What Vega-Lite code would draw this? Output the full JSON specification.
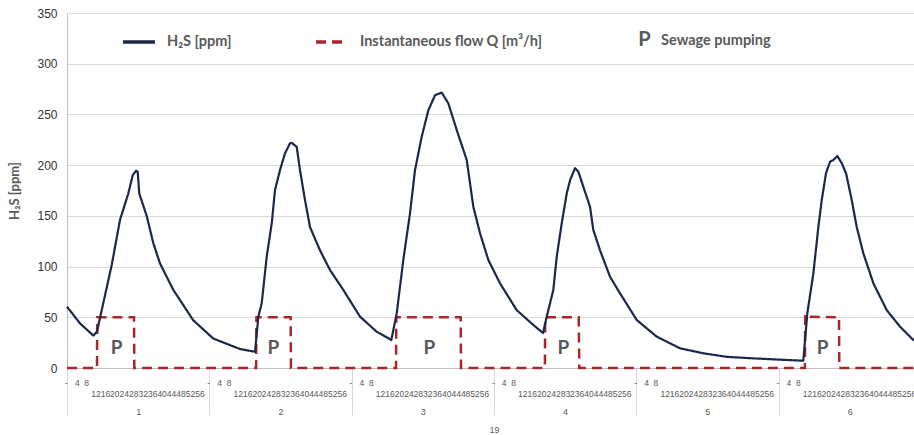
{
  "$schema": "https://vega.github.io/schema/vega-lite/v6.json",
  "width": 847,
  "height": 355,
  "autosize": {"type": "none"},
  "padding": {"left": 67, "top": 13, "right": 0, "bottom": 67},
  "background": "white",
  "config": {
    "view": {"stroke": null},
    "font": "Lato",
    "axisX": {"orient": "bottom", "grid": false, "domain": false, "ticks": false, "labelFlush": false, "labelOverlap": false, "labelFont": "Liberation Sans", "labelFontSize": 8.5, "labelColor": "#595959", "labelBound": false},
    "axisY": {"grid": true, "gridColor": "#d9d9d9", "gridWidth": 1, "domain": true, "domainColor": "#bfbfbf", "ticks": false, "labelPadding": 10, "labelFont": "Liberation Sans", "labelFontSize": 12, "labelColor": "#333333", "titleFont": "Lato", "titleFontSize": 13, "titleFontWeight": "bold", "titleColor": "#595959", "titlePadding": 15, "tickCount": 7},
    "legend": {"orient": "none", "legendX": 54, "legendY": 11, "direction": "horizontal", "symbolType": "stroke", "symbolSize": 1024, "symbolStrokeWidth": 3.5, "labelFont": "Lato", "labelFontWeight": "bold", "labelFontSize": 14.5, "labelColor": "#595959", "labelOffset": 10, "columnPadding": 77, "padding": 0, "labelLimit": 400}
  },
  "datasets": {
    "h2s": [
      {"t": 0, "v": 60.4}, {"t": 2.19, "v": 44}, {"t": 4.44, "v": 32}, {"t": 5.06, "v": 36}, {"t": 6.12, "v": 64}, {"t": 7.54, "v": 101.5}, {"t": 8.94, "v": 146}, {"t": 10.34, "v": 172}, {"t": 11.08, "v": 190}, {"t": 11.64, "v": 194.5}, {"t": 11.92, "v": 193.6}, {"t": 12.19, "v": 172}, {"t": 13.44, "v": 150}, {"t": 14.56, "v": 123}, {"t": 15.69, "v": 103}, {"t": 17.93, "v": 77}, {"t": 21.3, "v": 47}, {"t": 24.68, "v": 29}, {"t": 29.18, "v": 18.7}, {"t": 31.71, "v": 16},
      {"t": 32.27, "v": 50.6}, {"t": 32.84, "v": 63.8}, {"t": 33.68, "v": 109.7}, {"t": 34.53, "v": 142.6}, {"t": 35.08, "v": 175.5}, {"t": 35.92, "v": 195}, {"t": 36.77, "v": 211.7}, {"t": 37.61, "v": 221.5}, {"t": 37.9, "v": 222}, {"t": 38.74, "v": 218}, {"t": 39.3, "v": 195}, {"t": 40.14, "v": 165.6}, {"t": 40.98, "v": 139}, {"t": 42.67, "v": 116}, {"t": 44.36, "v": 96.6}, {"t": 46.6, "v": 77}, {"t": 49.42, "v": 50.6}, {"t": 52.23, "v": 35.8}, {"t": 54.7, "v": 27.6},
      {"t": 55.61, "v": 54}, {"t": 56.72, "v": 106.5}, {"t": 57.85, "v": 152.5}, {"t": 58.69, "v": 195}, {"t": 59.82, "v": 228}, {"t": 60.94, "v": 254}, {"t": 62.07, "v": 269}, {"t": 63.2, "v": 271.5}, {"t": 64.31, "v": 261}, {"t": 65.73, "v": 234.6}, {"t": 67.42, "v": 205}, {"t": 68.53, "v": 159}, {"t": 69.66, "v": 132.8}, {"t": 71.06, "v": 106.5}, {"t": 73.03, "v": 83.5}, {"t": 75.85, "v": 57}, {"t": 78.65, "v": 42.4}, {"t": 80.28, "v": 34.5},
      {"t": 80.91, "v": 50.6}, {"t": 82.02, "v": 77}, {"t": 82.6, "v": 110}, {"t": 83.44, "v": 142.6}, {"t": 84.28, "v": 172}, {"t": 84.84, "v": 185}, {"t": 85.68, "v": 197}, {"t": 86.24, "v": 193.6}, {"t": 87.08, "v": 178.7}, {"t": 88.21, "v": 159}, {"t": 88.77, "v": 136}, {"t": 89.9, "v": 116}, {"t": 91.58, "v": 90}, {"t": 93.27, "v": 73.6}, {"t": 96.09, "v": 47.3}, {"t": 99.46, "v": 30.9}, {"t": 103.39, "v": 19.4}, {"t": 107.32, "v": 14.5}, {"t": 111.27, "v": 11}, {"t": 115.75, "v": 9.5}, {"t": 121.39, "v": 7.9}, {"t": 124.18, "v": 7.2},
      {"t": 124.86, "v": 54}, {"t": 125.87, "v": 93}, {"t": 126.72, "v": 139}, {"t": 127.29, "v": 165.6}, {"t": 128.01, "v": 192}, {"t": 128.69, "v": 203.4}, {"t": 129.25, "v": 205}, {"t": 129.92, "v": 209}, {"t": 130.66, "v": 202}, {"t": 131.39, "v": 192}, {"t": 132.35, "v": 165.6}, {"t": 133.19, "v": 139}, {"t": 134.31, "v": 113}, {"t": 136, "v": 83.5}, {"t": 138.26, "v": 57}, {"t": 140.5, "v": 40.7}, {"t": 142.74, "v": 27.6}, {"t": 142.85, "v": 27}
    ],
    "flow": [
      {"t": 0, "q": 0}, {"t": 5.06, "q": 0}, {"t": 5.1, "q": 50}, {"t": 11.3, "q": 50}, {"t": 11.35, "q": 0},
      {"t": 31.9, "q": 0}, {"t": 31.95, "q": 50}, {"t": 37.72, "q": 50}, {"t": 37.77, "q": 0},
      {"t": 55.49, "q": 0}, {"t": 55.54, "q": 50}, {"t": 66.4, "q": 50}, {"t": 66.45, "q": 0},
      {"t": 80.6, "q": 0}, {"t": 80.65, "q": 50}, {"t": 86.3, "q": 50}, {"t": 86.4, "q": 0},
      {"t": 124.45, "q": 0}, {"t": 124.5, "q": 53}, {"t": 125.3, "q": 50.5}, {"t": 130.2, "q": 50}, {"t": 130.25, "q": 0},
      {"t": 142.85, "q": 0}
    ],
    "pump": [
      {"t": 8.38, "label": "P"}, {"t": 34.79, "label": "P"}, {"t": 61.11, "label": "P"}, {"t": 83.71, "label": "P"}, {"t": 127.46, "label": "P"}
    ]
  },
  "layer": [
    {
      "data": {"name": "flow"},
      "mark": {"type": "line", "strokeWidth": 2.5, "strokeCap": "butt"},
      "encoding": {
        "x": {"field": "t", "type": "quantitative", "title": null, "scale": {"domain": [0, 142.85], "nice": false, "zero": false},
          "axis": {"orient": "bottom", "values": [0, 24, 48, 72, 96, 120], "labels": false, "ticks": true, "tickSize": 47, "tickColor": "#d9d9d9", "tickWidth": 1, "domain": true, "domainColor": "#bfbfbf", "domainWidth": 1,
            "encode": {"ticks": {"update": {"y2": {"signal": "datum.value === 0 ? 67 : 47"}}}}}},
        "y": {"field": "q", "type": "quantitative", "title": "H₂S [ppm]", "scale": {"domain": [0, 350], "nice": false}},
        "color": {"datum": "Instantaneous flow Q [m³/h]", "title": null, "scale": {"domain": ["H₂S [ppm]", "Instantaneous flow Q [m³/h]"], "range": ["#1d2749", "#a8272d"]}},
        "strokeDash": {"datum": "Instantaneous flow Q [m³/h]", "title": null, "scale": {"domain": ["H₂S [ppm]", "Instantaneous flow Q [m³/h]"], "range": [[1, 0], [10, 6]]}}
      }
    },
    {
      "data": {"name": "h2s"},
      "mark": {"type": "line", "strokeWidth": 2.2, "strokeJoin": "round"},
      "encoding": {
        "x": {"field": "t", "type": "quantitative", "title": null, "scale": {"domain": [0, 142.85], "nice": false, "zero": false},
          "axis": {"orient": "bottom", "values": [0, 24, 48, 72, 96, 120], "labelExpr": "'-\u00a0\u00a0\u00a04\u00a0\u00a08'", "labelAlign": "left", "labelOffset": -2.5, "labelPadding": 10}},
        "y": {"field": "v", "type": "quantitative", "title": "H₂S [ppm]", "scale": {"domain": [0, 350], "nice": false}},
        "color": {"datum": "H₂S [ppm]", "title": null},
        "strokeDash": {"datum": "H₂S [ppm]", "title": null}
      }
    },
    {
      "data": {"name": "pump"},
      "mark": {"type": "text", "font": "Lato", "fontWeight": "bold", "fontSize": 19, "color": "#595959", "align": "center", "baseline": "middle"},
      "encoding": {
        "x": {"field": "t", "type": "quantitative", "title": null, "scale": {"domain": [0, 142.85], "nice": false, "zero": false},
          "axis": {"orient": "bottom", "values": [0, 24, 48, 72, 96, 120], "labelExpr": "'121620242832364044485256'", "labelAlign": "left", "labelOffset": 23.7, "labelPadding": 21}},
        "y": {"datum": 20, "type": "quantitative", "title": "H₂S [ppm]"},
        "text": {"field": "label"}
      }
    },
    {
      "data": {"values": [{"label": "P"}]},
      "mark": {"type": "text", "font": "Lato", "fontWeight": "bold", "fontSize": 20, "color": "#595959", "align": "center", "baseline": "middle"},
      "encoding": {
        "x": {"datum": 97.4, "type": "quantitative", "title": null, "scale": {"domain": [0, 142.85], "nice": false, "zero": false},
          "axis": {"orient": "bottom", "values": [12, 36, 60, 84, 108, 132], "labelExpr": "format(datum.value / 24 + 0.5, 'd')", "labelPadding": 39, "labelFontSize": 9}},
        "y": {"datum": 323.4, "type": "quantitative", "title": "H₂S [ppm]"},
        "text": {"field": "label"}
      }
    },
    {
      "data": {"values": [{"label": "Sewage pumping"}]},
      "mark": {"type": "text", "font": "Lato", "fontWeight": "bold", "fontSize": 14.5, "color": "#595959", "align": "left", "baseline": "middle"},
      "encoding": {
        "x": {"datum": 100.19, "type": "quantitative", "title": null, "scale": {"domain": [0, 142.85], "nice": false, "zero": false},
          "axis": {"orient": "bottom", "values": [72], "labelExpr": "'19'", "labelPadding": 57, "labelFontSize": 9}},
        "y": {"datum": 322.4, "type": "quantitative", "title": "H₂S [ppm]"},
        "text": {"field": "label"}
      }
    }
  ],
  "resolve": {"axis": {"x": "independent"}}
}
